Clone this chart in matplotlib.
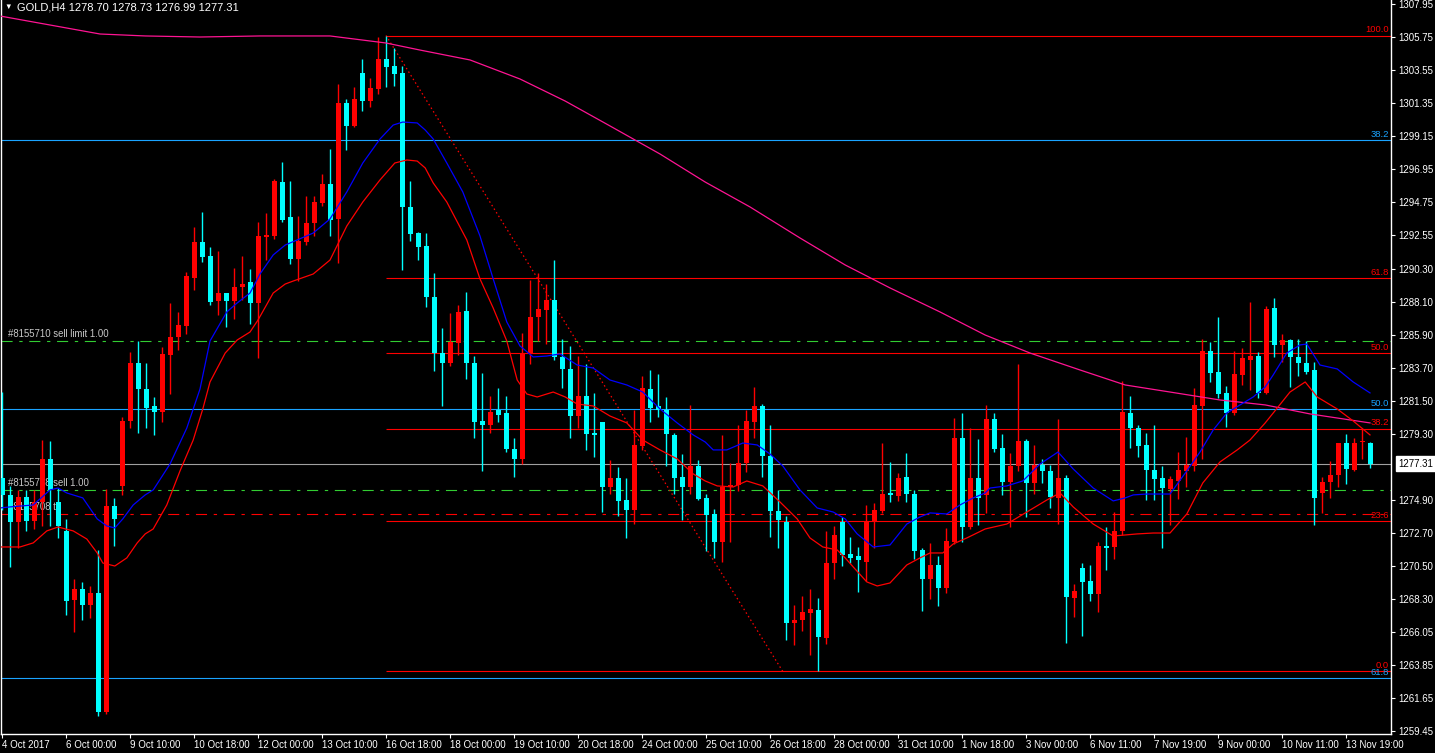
import numpy as np
import matplotlib.pyplot as plt

plt.rcParams['font.family'] = ['Liberation Sans', 'DejaVu Sans']

# GOLD H4 candles (red = up bar, cyan = down bar)
opens = [1276.35, 1275.22, 1273.42, 1275.08, 1273.48, 1274.75, 1277.62, 1274.75, 1272.82, 1268.22,
         1268.95, 1267.88, 1268.68, 1260.75, 1274.48, 1275.82, 1280.15, 1284.02, 1282.28, 1281.15,
         1280.75, 1284.55, 1285.75, 1286.48, 1289.68, 1292.08, 1291.15, 1288.15, 1288.68, 1288.15,
         1289.08, 1289.42, 1288.02, 1292.42, 1292.48, 1296.08, 1293.75, 1290.95, 1292.08, 1293.35,
         1294.68, 1295.95, 1293.62, 1301.35, 1299.82, 1303.35, 1301.48, 1302.28, 1304.28, 1303.82,
         1303.35, 1294.42, 1292.68, 1291.82, 1288.42, 1284.68, 1284.02, 1285.35, 1287.48, 1284.02,
         1280.15, 1279.88, 1280.88, 1280.68, 1278.28, 1277.62, 1284.62, 1287.08, 1287.55, 1288.22,
         1284.42, 1283.62, 1280.48, 1281.82, 1279.35, 1280.08, 1275.75, 1276.35, 1274.88, 1274.22,
         1278.48, 1282.28, 1281.15, 1280.88, 1279.22, 1276.42, 1275.75, 1277.15, 1275.02, 1273.95,
         1272.08, 1275.75, 1275.88, 1277.35, 1280.08, 1281.15, 1277.82, 1274.15, 1273.42, 1266.68,
         1266.88, 1267.35, 1267.55, 1265.68, 1270.68, 1273.42, 1271.28, 1271.15, 1270.75, 1273.42,
         1274.15, 1275.35, 1275.15, 1276.42, 1275.28, 1271.55, 1269.62, 1270.55, 1269.02, 1272.08,
         1279.02, 1273.08, 1276.35, 1275.22, 1280.28, 1278.35, 1276.08, 1277.15, 1278.82, 1276.02,
         1277.22, 1276.82, 1275.02, 1276.35, 1268.35, 1270.35, 1269.48, 1268.62, 1271.82, 1271.75,
         1272.82, 1280.68, 1279.68, 1278.55, 1276.88, 1276.35, 1275.62, 1276.15, 1276.82, 1277.15,
         1281.15, 1284.82, 1283.42, 1282.02, 1280.68, 1283.22, 1284.22, 1284.48, 1282.02, 1287.68,
         1285.22, 1285.55, 1284.42, 1284.02, 1283.55, 1275.35, 1276.08, 1276.55, 1278.68, 1276.88,
         1278.75, 1278.70]
highs = [1282.08, 1275.82, 1275.55, 1275.55, 1275.55, 1278.88, 1278.82, 1275.68, 1273.62, 1269.62,
         1269.42, 1269.15, 1271.55, 1275.62, 1275.02, 1280.42, 1284.75, 1285.48, 1284.02, 1281.75,
         1285.08, 1288.02, 1287.42, 1290.08, 1293.08, 1294.08, 1291.75, 1291.48, 1288.68, 1290.35,
         1291.15, 1290.28, 1293.42, 1294.02, 1296.28, 1297.42, 1296.15, 1293.82, 1295.15, 1295.15,
         1296.62, 1298.28, 1302.62, 1301.62, 1302.42, 1304.28, 1303.02, 1305.75, 1305.85, 1305.02,
         1303.82, 1296.15, 1292.75, 1292.68, 1290.02, 1286.35, 1287.35, 1287.88, 1288.75, 1284.48,
         1283.35, 1281.82, 1282.35, 1281.82, 1279.02, 1286.02, 1289.55, 1290.02, 1289.28, 1290.88,
         1285.62, 1285.15, 1284.48, 1283.95, 1282.02, 1280.08, 1277.55, 1277.08, 1276.35, 1280.88,
         1283.15, 1283.55, 1283.28, 1281.75, 1279.35, 1277.95, 1281.22, 1277.55, 1275.28, 1274.28,
         1279.22, 1277.35, 1279.88, 1280.88, 1282.42, 1281.28, 1279.88, 1275.55, 1273.82, 1267.88,
         1268.48, 1268.95, 1268.35, 1272.82, 1273.15, 1273.75, 1272.42, 1271.75, 1274.55, 1274.68,
         1278.68, 1277.42, 1276.68, 1278.02, 1275.55, 1271.68, 1272.02, 1271.15, 1273.02, 1280.35,
         1280.68, 1279.68, 1278.95, 1281.22, 1280.68, 1279.28, 1278.02, 1283.95, 1278.95, 1278.55,
         1277.62, 1277.22, 1280.28, 1276.55, 1269.28, 1270.68, 1270.55, 1272.08, 1273.08, 1274.08,
         1282.82, 1281.82, 1279.88, 1279.35, 1279.88, 1277.15, 1276.48, 1278.08, 1279.08, 1282.35,
         1285.62, 1285.42, 1287.08, 1282.48, 1284.82, 1285.02, 1288.08, 1284.75, 1287.82, 1288.35,
         1285.95, 1285.62, 1285.62, 1285.48, 1284.08, 1276.42, 1277.48, 1278.68, 1279.28, 1279.02,
         1279.62, 1278.73]
lows = [1274.22, 1270.42, 1271.68, 1272.82, 1272.95, 1273.15, 1273.15, 1272.35, 1267.22, 1266.08,
        1266.88, 1267.02, 1260.48, 1260.62, 1271.82, 1275.22, 1279.68, 1279.35, 1279.68, 1279.22,
        1280.08, 1281.95, 1284.88, 1285.95, 1288.88, 1290.75, 1287.88, 1287.22, 1286.42, 1286.95,
        1288.22, 1286.62, 1284.35, 1290.88, 1292.28, 1293.40, 1290.62, 1289.48, 1291.88, 1292.48,
        1294.48, 1292.48, 1290.68, 1298.22, 1299.75, 1300.82, 1301.08, 1301.95, 1302.42, 1302.48,
        1290.22, 1292.15, 1290.88, 1287.75, 1283.48, 1281.15, 1283.82, 1284.55, 1282.95, 1279.02,
        1276.82, 1279.35, 1280.08, 1278.08, 1276.42, 1277.28, 1283.95, 1285.48, 1285.28, 1284.22,
        1282.35, 1279.02, 1279.68, 1278.22, 1277.75, 1274.08, 1275.28, 1273.82, 1272.35, 1273.28,
        1278.22, 1280.08, 1280.42, 1277.15, 1275.28, 1273.55, 1275.28, 1274.88, 1271.48, 1271.02,
        1270.75, 1272.08, 1275.48, 1276.75, 1279.02, 1276.42, 1272.42, 1271.68, 1265.55, 1265.22,
        1266.15, 1264.55, 1263.45, 1265.28, 1269.62, 1270.48, 1270.68, 1268.75, 1269.48, 1271.68,
        1274.02, 1274.75, 1274.82, 1274.75, 1270.95, 1267.48, 1268.28, 1267.82, 1268.68, 1271.95,
        1272.08, 1272.95, 1273.22, 1274.02, 1278.08, 1275.22, 1273.08, 1276.82, 1273.75, 1275.28,
        1276.02, 1274.35, 1273.28, 1265.35, 1267.08, 1265.82, 1268.15, 1267.42, 1270.22, 1270.95,
        1272.55, 1278.35, 1277.75, 1274.88, 1274.88, 1271.68, 1273.22, 1274.95, 1275.75, 1276.82,
        1277.62, 1282.75, 1281.68, 1279.75, 1280.55, 1282.55, 1282.22, 1281.68, 1281.95, 1284.42,
        1284.08, 1282.42, 1283.15, 1283.28, 1273.22, 1274.02, 1275.02, 1275.75, 1275.95, 1276.82,
        1277.62, 1276.99]
closes = [1275.22, 1273.42, 1275.08, 1273.48, 1274.75, 1277.62, 1275.55, 1273.15, 1268.15, 1268.95,
          1267.88, 1268.68, 1260.75, 1274.48, 1273.62, 1280.15, 1284.02, 1282.28, 1281.02, 1280.75,
          1284.62, 1285.75, 1286.55, 1289.82, 1292.08, 1291.08, 1288.08, 1288.68, 1288.15, 1289.08,
          1289.28, 1288.02, 1292.48, 1292.55, 1296.15, 1293.55, 1290.95, 1292.15, 1293.35, 1294.75,
          1295.95, 1293.55, 1301.35, 1299.82, 1301.62, 1301.48, 1302.35, 1304.28, 1303.75, 1303.28,
          1294.42, 1292.62, 1291.75, 1288.42, 1284.68, 1284.02, 1285.42, 1287.42, 1284.02, 1280.08,
          1279.88, 1280.75, 1280.55, 1278.28, 1277.62, 1284.62, 1287.08, 1287.62, 1288.22, 1284.42,
          1283.62, 1280.48, 1281.82, 1279.28, 1279.22, 1275.75, 1276.35, 1274.82, 1274.22, 1278.55,
          1282.35, 1281.02, 1280.88, 1279.28, 1276.35, 1275.75, 1277.15, 1274.95, 1273.88, 1272.08,
          1275.75, 1275.88, 1277.35, 1280.15, 1281.15, 1277.82, 1274.15, 1273.55, 1266.68, 1266.88,
          1267.42, 1267.62, 1265.75, 1270.68, 1272.55, 1271.22, 1271.02, 1270.88, 1273.42, 1274.22,
          1275.28, 1275.22, 1276.35, 1275.28, 1271.48, 1269.62, 1270.55, 1269.02, 1272.15, 1279.02,
          1273.08, 1276.35, 1275.02, 1280.28, 1278.28, 1276.08, 1277.15, 1278.82, 1276.02, 1277.22,
          1276.82, 1275.08, 1276.35, 1268.42, 1268.82, 1269.42, 1268.62, 1271.82, 1271.68, 1272.82,
          1280.75, 1279.68, 1278.48, 1276.88, 1276.28, 1275.68, 1276.28, 1276.88, 1277.22, 1281.22,
          1284.82, 1283.35, 1281.95, 1280.68, 1283.28, 1284.35, 1284.48, 1282.02, 1287.62, 1285.22,
          1285.55, 1284.42, 1284.02, 1283.42, 1275.02, 1276.08, 1276.55, 1278.68, 1276.95, 1278.68,
          1278.82, 1277.31]

# moving averages, sampled along the drawn lines (bar index, price)
blue_k = [-0.25, 1.0, 3.9, 6.0, 7.0, 8.1, 10.1, 11.9, 13.1, 14.1, 15.1, 16.4, 17.9, 18.9, 21.0, 23.1,
          24.75, 26.0, 28.1, 29.4, 31.0, 32.25, 33.9, 35.4, 36.9, 38.9, 41.0, 43.1, 45.1, 47.25, 48.9,
          50.1, 51.9, 52.9, 53.9, 55.6, 57.6, 59.75, 61.4, 63.1, 64.75, 66.4, 68.1, 69.75, 71.9, 73.9,
          76.0, 78.1, 80.1, 82.25, 84.4, 86.4, 87.9, 88.9, 90.6, 92.6, 94.4, 96.0, 97.6, 99.75, 101.9,
          103.9, 105.4, 106.9, 108.9, 111.0, 113.1, 114.75, 116.0, 118.1, 119.75, 121.4, 122.9, 123.5,
          125.6, 127.6, 129.75, 132.0, 133.9, 136.4, 138.9, 140.4, 141.4, 143.1, 146.0, 148.1, 149.75,
          151.4, 153.1, 154.75, 156.4, 157.9, 158.9, 160.6, 162.25, 163.1, 164.75, 166.9, 168.9, 171.0]
blue_p = [1274.35, 1274.42, 1274.55, 1275.55, 1275.68, 1275.35, 1275.02, 1273.62, 1273.15, 1273.02,
          1273.62, 1274.55, 1275.22, 1275.55, 1277.28, 1279.68, 1282.28, 1285.48, 1287.42, 1288.02,
          1288.68, 1289.95, 1291.22, 1291.88, 1292.22, 1292.68, 1293.62, 1295.42, 1297.35, 1298.95,
          1299.88, 1300.08, 1300.02, 1299.55, 1298.95, 1297.35, 1295.42, 1292.48, 1289.62, 1286.75,
          1285.15, 1284.42, 1284.48, 1284.62, 1283.88, 1283.68, 1282.88, 1282.55, 1282.08, 1280.95,
          1280.02, 1279.22, 1278.75, 1278.22, 1278.22, 1278.68, 1278.55, 1277.95, 1277.15, 1275.55,
          1274.35, 1274.08, 1273.62, 1272.62, 1271.75, 1271.88, 1273.28, 1273.75, 1274.02, 1273.95,
          1274.55, 1275.02, 1275.35, 1275.68, 1275.82, 1276.15, 1277.28, 1278.08, 1276.95, 1275.68,
          1274.82, 1275.02, 1275.22, 1275.28, 1275.28, 1276.82, 1278.08, 1279.55, 1280.68, 1281.22,
          1281.75, 1282.42, 1283.22, 1284.68, 1285.22, 1285.28, 1283.88, 1283.62, 1282.75, 1282.02]

red_k = [-0.25, 2.25, 3.9, 5.6, 7.0, 8.9, 10.6, 11.9, 12.6, 14.1, 15.6, 16.9, 17.9, 18.9, 20.6, 22.25,
         23.9, 25.1, 26.0, 27.9, 29.4, 31.0, 32.0, 33.9, 35.4, 36.4, 38.9, 41.0, 43.1, 45.1, 47.25,
         49.1, 50.6, 51.9, 52.9, 53.9, 55.6, 58.1, 59.75, 61.4, 63.1, 64.4, 65.6, 66.9, 68.9, 70.4,
         71.9, 73.9, 76.0, 78.1, 80.1, 82.25, 84.4, 86.4, 87.9, 89.4, 91.4, 93.1, 95.1, 97.25, 99.4,
         101.0, 102.6, 104.4, 105.4, 106.4, 108.1, 109.4, 111.0, 113.1, 114.75, 116.0, 117.6, 118.9,
         120.6, 122.9, 125.6, 128.1, 130.6, 132.25, 133.9, 136.4, 138.9, 140.4, 141.9, 143.9, 146.0,
         148.1, 150.1, 152.25, 154.4, 156.0, 157.9, 158.9, 161.0, 162.9, 164.4, 166.9, 168.9, 171.0]
red_p = [1271.75, 1271.75, 1272.02, 1272.82, 1273.08, 1272.82, 1272.28, 1271.35, 1270.68, 1270.48,
         1271.02, 1272.02, 1272.62, 1272.95, 1274.55, 1276.82, 1278.88, 1280.95, 1282.75, 1284.68,
         1285.55, 1286.08, 1286.88, 1288.68, 1289.28, 1289.48, 1289.95, 1290.88, 1293.15, 1294.75,
         1296.22, 1297.35, 1297.55, 1297.48, 1297.02, 1296.02, 1294.75, 1292.22, 1289.62, 1287.68,
         1285.48, 1282.88, 1281.95, 1281.75, 1282.08, 1281.75, 1281.28, 1281.15, 1280.48, 1280.02,
         1278.88, 1278.22, 1277.62, 1276.62, 1276.15, 1275.82, 1275.75, 1276.15, 1275.82, 1274.75,
         1273.62, 1272.35, 1271.75, 1271.55, 1271.02, 1270.42, 1269.42, 1269.15, 1269.35, 1270.55,
         1271.02, 1271.35, 1271.35, 1271.95, 1272.35, 1272.95, 1273.28, 1274.08, 1274.88, 1275.35,
         1274.42, 1273.28, 1272.48, 1272.55, 1272.62, 1272.68, 1272.68, 1273.95, 1276.02, 1277.42,
         1278.22, 1278.88, 1280.02, 1280.68, 1282.08, 1282.75, 1281.75, 1280.95, 1280.15, 1279.22]

pink_k = [-0.25, 6.0, 12.25, 17.9, 24.75, 32.25, 41.0, 48.0, 52.25, 58.5, 64.75, 70.4, 76.0, 82.25,
          87.9, 93.5, 99.75, 105.4, 111.0, 117.25, 122.9, 128.5, 134.75, 140.4, 146.0, 152.25, 157.9,
          163.5, 171.0]
pink_p = [1307.15, 1306.55, 1305.95, 1305.82, 1305.75, 1305.82, 1305.82, 1305.35, 1304.88, 1304.22,
          1302.95, 1301.48, 1299.82, 1297.95, 1296.08, 1294.42, 1292.35, 1290.55, 1289.02, 1287.42,
          1285.88, 1284.68, 1283.55, 1282.55, 1282.08, 1281.55, 1281.22, 1280.62, 1280.02]

# fibo (red) drawn from the swing high to the swing low
fib_start, fib_end = 48, 97.6
fib_high, fib_low = 1305.85, 1263.45
fib_levels = [100.0, 61.8, 50.0, 38.2, 23.6, 0.0]
# second fibo (blue), only three levels visible
blue_fib_levels = ['38.2', '50.0', '61.8']
blue_fib_prices = [1298.88, 1280.95, 1263.02]

sell_limit_price = 1285.48
sell_price = 1275.55
tp_price = 1273.98
bid = 1277.31

ytick_vals = [1307.95, 1305.75, 1303.55, 1301.35, 1299.15, 1296.95, 1294.75, 1292.55, 1290.30,
              1288.10, 1285.90, 1283.70, 1281.50, 1279.30, 1274.90, 1272.70, 1270.50, 1268.30,
              1266.05, 1263.85, 1261.65, 1259.45]
xtick_labels = ['4 Oct 2017', '6 Oct 00:00', '9 Oct 10:00', '10 Oct 18:00', '12 Oct 00:00',
                '13 Oct 10:00', '16 Oct 18:00', '18 Oct 00:00', '19 Oct 10:00', '20 Oct 18:00',
                '24 Oct 00:00', '25 Oct 10:00', '26 Oct 18:00', '28 Oct 00:00', '31 Oct 10:00',
                '1 Nov 18:00', '3 Nov 00:00', '6 Nov 11:00', '7 Nov 19:00', '9 Nov 00:00',
                '10 Nov 11:00', '13 Nov 19:00']

fig = plt.figure(figsize=(14.35, 7.53), dpi=100, facecolor='black')
ax = fig.add_axes([1 / 1435, 19 / 753, 1390 / 1435, 734 / 753])
ax.set_facecolor('black')
x_left, x_right = -0.125, 173.625
ax.set_xlim(x_left, x_right)
ax.set_ylim(1259.28, 1308.217)

o = np.array(opens)
h = np.array(highs)
l = np.array(lows)
c = np.array(closes)
idx = np.arange(len(o))
cols = np.where(c >= o, '#FF0000', '#00FFFF')

fib_blue = '#1AA3FF'

# horizontal objects
for lev in fib_levels:
    p = fib_low + lev / 100 * (fib_high - fib_low)
    ax.hlines(p, fib_start, x_right, color='#FF0000', lw=0.8, zorder=1)
    ax.text(173.4, p + 0.07, f'{lev:.1f}', color='#FF0000', fontsize=6.8, ha='right', va='bottom', zorder=6)
for lab, p in zip(blue_fib_levels, blue_fib_prices):
    ax.axhline(p, color=fib_blue, lw=0.8, zorder=1)
    ax.text(173.4, p + 0.07, lab, color=fib_blue, fontsize=6.8, ha='right', va='bottom', zorder=6)
ax.plot([fib_start, fib_end], [fib_high, fib_low], color='#FF0000', lw=0.9,
        linestyle=(0, (1.2, 2.2)), zorder=2)

ax.axhline(sell_limit_price, color='#32CD32', lw=0.8, linestyle=(0, (10, 6, 3, 6)), zorder=1)
ax.axhline(sell_price, color='#32CD32', lw=0.8, linestyle=(0, (10, 6, 3, 6)), zorder=1)
ax.axhline(tp_price, color='#FF0000', lw=0.8, linestyle=(0, (10, 6, 3, 6)), zorder=1)
ax.axhline(bid, color='#A0A0A0', lw=0.8, zorder=1)

ax.text(0.75, sell_limit_price + 0.12, '#8155710 sell limit 1.00', color='#C8C8C8', fontsize=6.9,
        ha='left', va='bottom', zorder=2)
ax.text(0.75, sell_price + 0.12, '#8155708 sell 1.00', color='#C8C8C8', fontsize=6.9,
        ha='left', va='bottom', zorder=2)
ax.text(0.75, tp_price + 0.12, '#8155708 tp', color='#C8C8C8', fontsize=6.9,
        ha='left', va='bottom', zorder=2)

# candles
ax.vlines(idx, l, h, colors=cols, lw=1.0, zorder=3)
ax.bar(idx, np.maximum(np.abs(c - o), 0.07), bottom=np.minimum(o, c), width=0.625,
       color=cols, lw=0, zorder=3)

# indicators
ax.plot(pink_k, pink_p, color='#FF1493', lw=0.9, zorder=4)
ax.plot(red_k, red_p, color='#FF0000', lw=0.9, zorder=4)
ax.plot(blue_k, blue_p, color='#0000FF', lw=0.9, zorder=4)

# axes styling
for s in ['left', 'right', 'bottom']:
    ax.spines[s].set_color('white')
    ax.spines[s].set_linewidth(1)
ax.spines['top'].set_visible(False)

ax.yaxis.tick_right()
ax.set_yticks(ytick_vals)
ax.set_yticklabels([f'{v:.2f}' for v in ytick_vals])
ax.tick_params(axis='y', colors='white', labelsize=7, length=3, width=0.8, pad=2)

ax.set_xticks(np.arange(0, 169, 8))
ax.set_xticklabels(xtick_labels)
ax.tick_params(axis='x', colors='white', labelsize=7, length=3, width=0.8, pad=1)
for lbl in ax.get_xticklabels():
    lbl.set_horizontalalignment('left')

ax.annotate(f'{bid:.2f}', xy=(1.0, bid), xycoords=('axes fraction', 'data'),
            xytext=(5, 0), textcoords='offset points', ha='left', va='center',
            fontsize=7, color='black',
            bbox=dict(boxstyle='square,pad=0.25', fc='white', ec='white'), annotation_clip=False)

# header
fig.text(4 / 1435, 1 - 7 / 753, '\u25bc', color='white', fontsize=5.5, ha='left', va='center')
fig.text(17 / 1435, 1 - 7 / 753, 'GOLD,H4 1278.70 1278.73 1276.99 1277.31', color='white',
         fontsize=8, ha='left', va='center')

fig.savefig('out.png', dpi=100, facecolor='black')
